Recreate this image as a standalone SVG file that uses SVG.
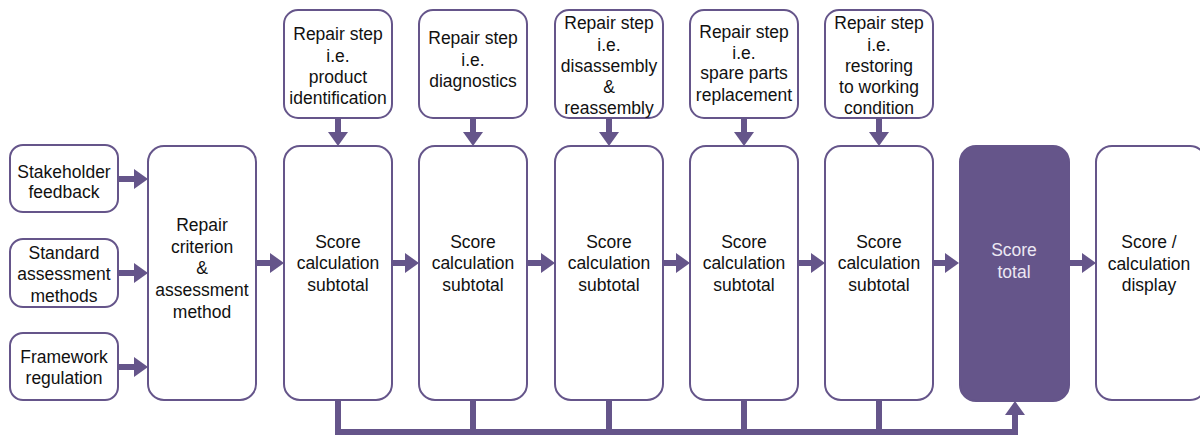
<svg xmlns="http://www.w3.org/2000/svg" width="1200" height="435" viewBox="0 0 1200 435">
<defs>
<style>
.box{fill:#ffffff;stroke:#65558a;stroke-width:2}
.dark{fill:#65558a;stroke:#65558a;stroke-width:2}
text{font-family:"Liberation Sans",Arial,sans-serif;font-size:17.5px;fill:#111111;text-anchor:middle}
.w{fill:#ece8f3}
.line{stroke:#65558a;stroke-width:6;fill:none}
.head{fill:#65558a}
</style>
</defs>
<rect width="1200" height="435" fill="#ffffff"/>
<g id="connectors">
<line class="line" x1="118" y1="179" x2="136" y2="179"/><polygon class="head" points="134,169 148,179 134,189"/>
<line class="line" x1="118" y1="273" x2="136" y2="273"/><polygon class="head" points="134,263 148,273 134,283"/>
<line class="line" x1="118" y1="367" x2="136" y2="367"/><polygon class="head" points="134,357 148,367 134,377"/>
<line class="line" x1="256" y1="263" x2="272" y2="263"/><polygon class="head" points="270,253 284,263 270,273"/>
<line class="line" x1="392" y1="263" x2="407" y2="263"/><polygon class="head" points="405,253 419,263 405,273"/>
<line class="line" x1="527" y1="263" x2="543" y2="263"/><polygon class="head" points="541,253 555,263 541,273"/>
<line class="line" x1="663" y1="263" x2="678" y2="263"/><polygon class="head" points="676,253 690,263 676,273"/>
<line class="line" x1="798" y1="263" x2="813" y2="263"/><polygon class="head" points="811,253 825,263 811,273"/>
<line class="line" x1="933" y1="263" x2="947" y2="263"/><polygon class="head" points="945,253 959,263 945,273"/>
<line class="line" x1="1069" y1="263" x2="1084" y2="263"/><polygon class="head" points="1082,253 1096,263 1082,273"/>
<line class="line" x1="338" y1="118" x2="338" y2="134"/><polygon class="head" points="328,132 338,146 348,132"/>
<line class="line" x1="473" y1="118" x2="473" y2="134"/><polygon class="head" points="463,132 473,146 483,132"/>
<line class="line" x1="609" y1="118" x2="609" y2="134"/><polygon class="head" points="599,132 609,146 619,132"/>
<line class="line" x1="744" y1="118" x2="744" y2="134"/><polygon class="head" points="734,132 744,146 754,132"/>
<line class="line" x1="879" y1="118" x2="879" y2="134"/><polygon class="head" points="869,132 879,146 889,132"/>
<path class="line" d="M338,400 V432 M473,400 V432 M609,400 V432 M744,400 V432 M879,400 V432 M335,432 H1015 V413"/>
<polygon class="head" points="1005,415 1015,401 1025,415"/>
</g>
<g id="stakeholder"><rect class="box" x="10" y="145" width="108" height="67" rx="13"/><text x="64" y="178">Stakeholder</text><text x="64" y="198">feedback</text></g>
<g id="standard"><rect class="box" x="10" y="239" width="108" height="68" rx="13"/><text x="64" y="259">Standard</text><text x="64" y="280">assessment</text><text x="64" y="302">methods</text></g>
<g id="framework"><rect class="box" x="10" y="333" width="108" height="67" rx="13"/><text x="64" y="363">Framework</text><text x="64" y="384">regulation</text></g>
<g id="criterion"><rect class="box" x="148" y="146" width="108" height="254" rx="16"/><text x="202" y="231">Repair</text><text x="202" y="253">criterion</text><text x="202" y="274">&amp;</text><text x="202" y="296">assessment</text><text x="202" y="318">method</text></g>
<g id="step1"><rect class="box" x="284" y="10" width="108" height="108" rx="14"/><text x="338" y="40">Repair step</text><text x="338" y="62">i.e.</text><text x="338" y="83">product</text><text x="338" y="104">identification</text></g>
<g id="step2"><rect class="box" x="419" y="10" width="108" height="108" rx="14"/><text x="473" y="44">Repair step</text><text x="473" y="66">i.e.</text><text x="473" y="87">diagnostics</text></g>
<g id="step3"><rect class="box" x="555" y="10" width="108" height="108" rx="14"/><text x="609" y="29">Repair step</text><text x="609" y="51">i.e.</text><text x="609" y="72">disassembly</text><text x="609" y="93">&amp;</text><text x="609" y="114">reassembly</text></g>
<g id="step4"><rect class="box" x="690" y="10" width="108" height="108" rx="14"/><text x="744" y="38">Repair step</text><text x="744" y="59">i.e.</text><text x="744" y="79">spare parts</text><text x="744" y="101">replacement</text></g>
<g id="step5"><rect class="box" x="825" y="10" width="108" height="108" rx="14"/><text x="879" y="29">Repair step</text><text x="879" y="51">i.e.</text><text x="879" y="72">restoring</text><text x="879" y="93">to working</text><text x="879" y="114">condition</text></g>
<g id="score1"><rect class="box" x="284" y="146" width="108" height="254" rx="16"/><text x="338" y="248">Score</text><text x="338" y="269">calculation</text><text x="338" y="291">subtotal</text></g>
<g id="score2"><rect class="box" x="419" y="146" width="108" height="254" rx="16"/><text x="473" y="248">Score</text><text x="473" y="269">calculation</text><text x="473" y="291">subtotal</text></g>
<g id="score3"><rect class="box" x="555" y="146" width="108" height="254" rx="16"/><text x="609" y="248">Score</text><text x="609" y="269">calculation</text><text x="609" y="291">subtotal</text></g>
<g id="score4"><rect class="box" x="690" y="146" width="108" height="254" rx="16"/><text x="744" y="248">Score</text><text x="744" y="269">calculation</text><text x="744" y="291">subtotal</text></g>
<g id="score5"><rect class="box" x="825" y="146" width="108" height="254" rx="16"/><text x="879" y="248">Score</text><text x="879" y="269">calculation</text><text x="879" y="291">subtotal</text></g>
<g id="total"><rect class="dark" x="960" y="146" width="109" height="255" rx="16"/><text class="w" x="1014" y="256">Score</text><text class="w" x="1014" y="278">total</text></g>
<g id="display"><rect class="box" x="1096" y="146" width="110" height="254" rx="16"/><text x="1149" y="248">Score /</text><text x="1149" y="270">calculation</text><text x="1149" y="291">display</text></g>
</svg>
